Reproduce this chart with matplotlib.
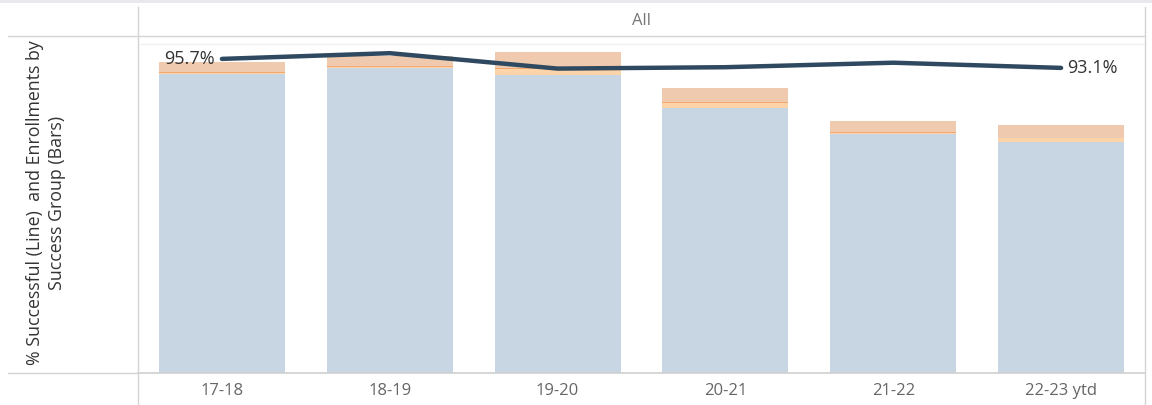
import matplotlib
matplotlib.use('Agg')
import matplotlib.pyplot as plt
from matplotlib.lines import Line2D
from matplotlib.patches import Rectangle
import numpy as np

plt.rcParams['font.family'] = ['Open Sans', 'DejaVu Sans']

# Data (enrollments by success group, stacked bars; % successful line)
years = ['17-18', '18-19', '19-20', '20-21', '21-22', '22-23 ytd']
successful = [11950, 12210, 11930, 10600, 9570, 9250]
group_light = [52, 40, 224, 188, 28, 148]
group_orange = [52, 12, 52, 52, 52, 12]
unsuccessful = [388, 400, 628, 560, 428, 520]
pct_successful = [95.7, 97.35, 92.9, 93.3, 94.6, 93.1]

W, H = 1152, 405
fig = plt.figure(figsize=(W / 100, H / 100), dpi=100)

# plot area in pixel terms
left, right, top, bottom = 138, 1145, 35, 373
ax = fig.add_axes([left / W, 1 - bottom / H, (right - left) / W, (bottom - top) / H])

x = np.arange(len(years))
colors = ['#c8d6e3', '#fdd3aa', '#f2a86e', '#efcaae']
base = np.zeros(len(years))
for vals, c in zip([successful, group_light, group_orange, unsuccessful], colors):
    ax.bar(x, vals, bottom=base, width=0.75, color=c, linewidth=0, zorder=2)
    base += np.array(vals)

ax.set_xlim(-0.5, len(years) - 0.5)
ax.set_ylim(0, 13520)
ax.set_yticks([])
ax.set_xticks(x)
ax.set_xticklabels(years, fontsize=12, color='#666666')
ax.tick_params(axis='x', length=0, pad=7)
for s in ['top', 'left', 'right']:
    ax.spines[s].set_visible(False)
ax.spines['bottom'].set_color('#d0d0d0')
ax.spines['bottom'].set_linestyle((0, (2, 1)))
ax.spines['bottom'].set_linewidth(1.2)

ax2 = ax.twinx()
ax2.plot(x, pct_successful, color='#2f4a60', linewidth=3.2, solid_capstyle='round',
         solid_joinstyle='round', zorder=5)
ax2.set_ylim(5.0, 102.6)
ax2.set_yticks([])
for s in ax2.spines.values():
    s.set_visible(False)
ax2.annotate(f'{pct_successful[0]}%', (x[0], pct_successful[0]), xytext=(-5, 0),
             textcoords='offset points', ha='right', va='center', fontsize=13, color='#333333')
ax2.annotate(f'{pct_successful[-1]}%', (x[-1], pct_successful[-1]), xytext=(4, 0),
             textcoords='offset points', ha='left', va='center', fontsize=13, color='#333333')

# Tableau-style frame lines
def hline(y, x0, x1, color, lw=1.0):
    fig.add_artist(Line2D([x0 / W, x1 / W], [1 - y / H, 1 - y / H], color=color, linewidth=lw))

def vline(xp, y0, y1, color, lw=1.0):
    fig.add_artist(Line2D([xp / W, xp / W], [1 - y0 / H, 1 - y1 / H], color=color, linewidth=lw))

fig.add_artist(Rectangle((0, 1 - 3 / H), 1, 3 / H, transform=fig.transFigure,
                         color='#e7e9ec', linewidth=0))
hline(35.5, 8, right, '#d4d4d4')
hline(43.5, left, right, '#f2f2f2')
vline(left, 7, H, '#d4d4d4')
vline(right, 7, H, '#d4d4d4')
hline(373, 8, left, '#d4d4d4')

fig.text((left + right) / 2 / W, 1 - 21 / H, 'All', ha='center', va='center',
         fontsize=12, color='#777777')
fig.text(46 / W, 1 - 203 / H, '% Successful (Line)  and Enrollments by\nSuccess Group (Bars)',
         rotation=90, ha='center', va='center', fontsize=12.8, color='#333333',
         multialignment='center', linespacing=1.25)

fig.savefig('out.png', dpi=100)
